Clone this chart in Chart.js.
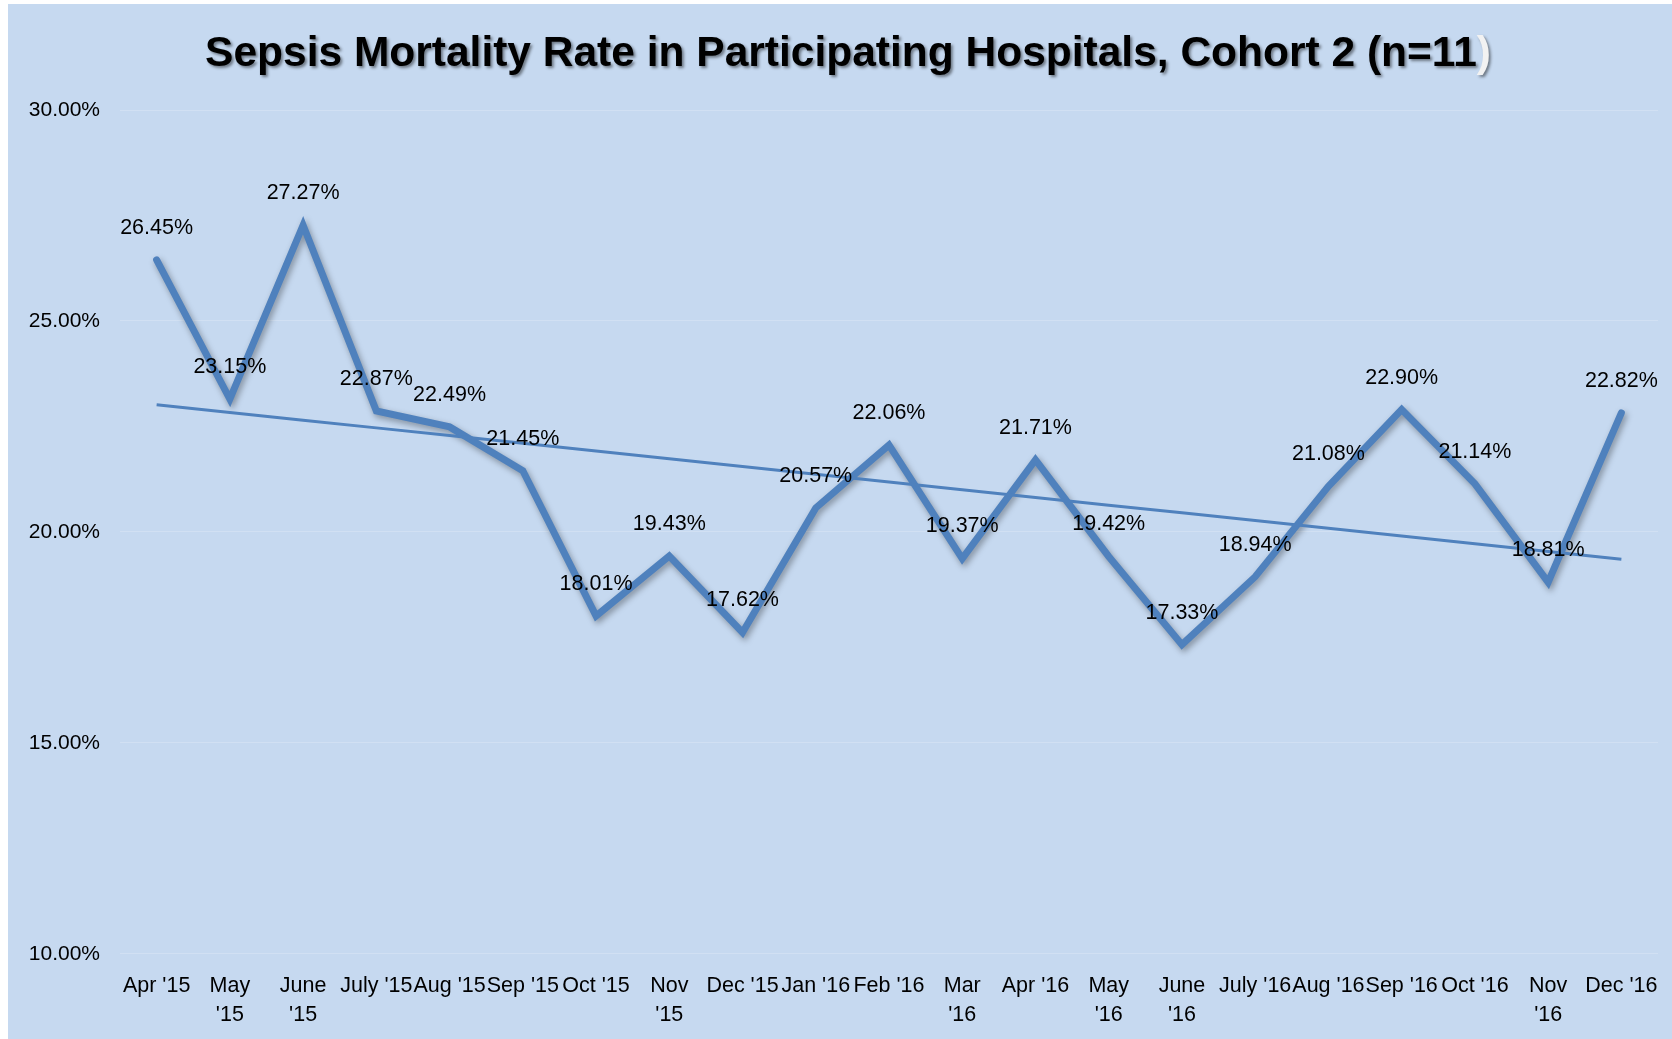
<!DOCTYPE html>
<html>
<head>
<meta charset="utf-8">
<script src="https://cdn.jsdelivr.net/npm/chart.js@4/dist/chart.umd.min.js"></script>
<style>
    html, body { margin: 0; padding: 0; background: #ffffff; }
    #wrap { position: absolute; left: 8px; top: 4px; width: 1664px; height: 1035px; background: #c6d9f0; }
</style>
</head>
<body>
<div id="wrap"><canvas id="sepsisChart"></canvas></div>
<script>
// Data sepsis mortality per bulan
const months = ["Apr '15", ['May', "'15"], ['June', "'15"], "July '15", "Aug '15", "Sep '15", "Oct '15",
    ['Nov', "'15"], "Dec '15", "Jan '16", "Feb '16", ['Mar', "'16"], "Apr '16", ['May', "'16"],
    ['June', "'16"], "July '16", "Aug '16", "Sep '16", "Oct '16", ['Nov', "'16"], "Dec '16"];
const mortality = [26.45, 23.15, 27.27, 22.87, 22.49, 21.45, 18.01, 19.43, 17.62, 20.57, 22.06,
    19.37, 21.71, 19.42, 17.33, 18.94, 21.08, 22.90, 21.14, 18.81, 22.82];
const yTicks = [10, 15, 20, 25, 30];
const titleText = 'Sepsis Mortality Rate in Participating Hospitals, Cohort 2 (n=11';

// garis tren linear (least squares) dari data di atas
function linearTrend(values) {
    const n = values.length;
    const mx = (n - 1) / 2;
    const my = values.reduce((a, b) => a + b, 0) / n;
    let num = 0, den = 0;
    values.forEach((v, i) => { num += (i - mx) * (v - my); den += (i - mx) * (i - mx); });
    const slope = num / den;
    return values.map((v, i) => my + slope * (i - mx));
}
const trend = linearTrend(mortality);

const lineColor = '#4f81bd';
const fontFamily = '"Liberation Sans", Arial, sans-serif';

// judul dengan bayangan, tanda kurung terakhir berwarna terang
const titlePlugin = {
    id: 'titleShadow',
    afterDraw(chart) {
        const ctx = chart.ctx;
        ctx.save();
        ctx.font = 'bold 42.5px ' + fontFamily;
        ctx.textBaseline = 'middle';
        const w1 = ctx.measureText(titleText).width;
        const w2 = ctx.measureText(')').width;
        const x0 = 840 - (w1 + w2) / 2;
        ctx.shadowColor = 'rgba(0,0,0,0.45)';
        ctx.shadowOffsetX = 2;
        ctx.shadowOffsetY = 2;
        ctx.shadowBlur = 3;
        ctx.fillStyle = '#000000';
        ctx.textAlign = 'left';
        ctx.fillText(titleText, x0, 50);
        ctx.fillStyle = '#f2f2f2';
        ctx.fillText(')', x0 + w1, 50);
        ctx.restore();
    }
};

// bayangan untuk garis utama
const shadowPlugin = {
    id: 'lineShadow',
    beforeDatasetDraw(chart, args) {
        if (args.index !== 1) return;
        const ctx = chart.ctx;
        ctx.save();
        ctx.shadowColor = 'rgba(0,0,0,0.35)';
        ctx.shadowBlur = 6;
        ctx.shadowOffsetX = 2;
        ctx.shadowOffsetY = 3;
    },
    afterDatasetDraw(chart, args) {
        if (args.index !== 1) return;
        chart.ctx.restore();
    }
};

// label nilai di atas titik
const labelPlugin = {
    id: 'valueLabels',
    afterDatasetsDraw(chart) {
        const ctx = chart.ctx;
        const meta = chart.getDatasetMeta(1);
        ctx.save();
        ctx.font = '21.5px ' + fontFamily;
        ctx.fillStyle = '#000000';
        ctx.textAlign = 'center';
        ctx.textBaseline = 'middle';
        meta.data.forEach((pt, i) => {
            ctx.fillText(mortality[i].toFixed(2) + '%', pt.x, pt.y - 32);
        });
        ctx.restore();
    }
};

const ctx = document.getElementById('sepsisChart').getContext('2d');
const sepsisChart = new Chart(ctx, {
    type: 'line',
    data: {
        labels: months,
        datasets: [
            { label: 'Trend', data: trend, borderColor: lineColor, borderWidth: 3, pointRadius: 0, fill: false, tension: 0 },
            { label: 'Mortality', data: mortality, borderColor: lineColor, borderWidth: 7, pointRadius: 0, fill: false, tension: 0, borderJoinStyle: 'miter', borderCapStyle: 'round' }
        ]
    },
    options: {
        responsive: true,
        maintainAspectRatio: false,
        animation: false,
        layout: { padding: { top: 106, left: 19, right: 14, bottom: 0 } },
        plugins: {
            legend: { display: false },
            tooltip: { enabled: false },
            title: { display: false }
        },
        scales: {
            x: {
                offset: true,
                grid: { display: false, drawTicks: false },
                border: { display: false },
                afterFit(axis) {
                    axis.height -= 9;
                    axis.paddingLeft = 0;
                    axis.paddingRight = 0;
                },
                ticks: {
                    color: '#000000',
                    font: { family: fontFamily, size: 21.5, lineHeight: 1.35 },
                    maxRotation: 0,
                    autoSkip: false,
                    padding: 18
                }
            },
            y: {
                min: 10,
                max: 30,
                afterBuildTicks(axis) { axis.ticks = yTicks.map(v => ({ value: v })); },
                afterFit(axis) { axis.width = 93; },
                grid: { color: 'rgba(255,255,255,0.2)', lineWidth: 1, drawTicks: false },
                border: { display: false },
                ticks: {
                    color: '#000000',
                    font: { family: fontFamily, size: 21 },
                    padding: 20,
                    callback: v => v.toFixed(2) + '%'
                }
            }
        }
    },
    plugins: [titlePlugin, shadowPlugin, labelPlugin]
});
</script>
</body>
</html>
